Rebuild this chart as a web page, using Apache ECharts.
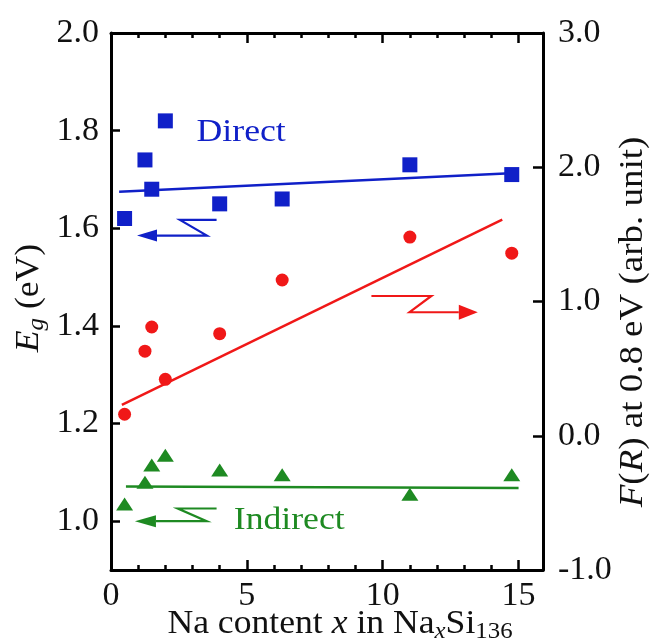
<!DOCTYPE html>
<html>
<head>
<meta charset="utf-8">
<script src="https://cdn.jsdelivr.net/npm/echarts@6/dist/echarts.min.js"></script>
<style>
  html, body { margin: 0; padding: 0; background: #fff; }
  #chart { width: 652px; height: 641px; }
</style>
</head>
<body>
<div id="chart"></div>
<script>
// Na content x in Na_xSi136 for each sample
const naContent = [0.5, 1.25, 1.5, 2.0, 4.0, 6.3, 11.0, 14.75];
// Direct band gap (eV), left axis
const directGap = [1.62, 1.74, 1.68, 1.82, 1.65, 1.66, 1.73, 1.71];
// Kubelka-Munk F(R) at 0.8 eV (arb. unit), right axis
const reflectance = [0.16, 0.63, 0.81, 0.42, 0.76, 1.16, 1.48, 1.36];
// Indirect band gap (eV), left axis
const indirectGap = [1.035, 1.08, 1.115, 1.135, 1.105, 1.095, 1.055, 1.095];

// Linear fit end points
const directFit = [[0.3, 1.675], [14.9, 1.713]];
const reflectanceFit = [[0.4, 0.23], [14.4, 1.61]];
const indirectFit = [[0.55, 1.071], [15.0, 1.068]];

// Tick positions
const xMajorTicks = [0, 5, 10, 15];
const xMinorTicks = [1, 2, 3, 4, 6, 7, 8, 9, 11, 12, 13, 14];
const leftTicks = [1.0, 1.2, 1.4, 1.6, 1.8, 2.0];

const BLUE = '#1020c8';
const RED = '#f01818';
const GREEN = '#1e8a22';
const INK = '#111';
const SERIF = '"Liberation Serif", "Times New Roman", serif';

const chart = echarts.init(document.getElementById('chart'), null, { renderer: 'canvas' });

const pair = (ys) => naContent.map((x, i) => [x, ys[i]]);
const fmt1 = (v) => Number(v).toFixed(1);

function xAxisDef(position, ticks, len, withLine, withLabels) {
  return {
    type: 'value', position: position, min: 0, max: 15.9,
    axisLine: { show: withLine, onZero: false, lineStyle: { color: '#000', width: 3 } },
    axisTick: { show: true, inside: true, length: len, customValues: ticks,
                lineStyle: { color: '#000', width: 2.5 } },
    axisLabel: withLabels
      ? { show: true, customValues: xMajorTicks, fontSize: 34, fontFamily: SERIF, color: INK, margin: 9 }
      : { show: false },
    splitLine: { show: false }
  };
}

const option = {
  animation: false,
  backgroundColor: '#fff',
  grid: { left: 111, right: 109, top: 33, bottom: 71, containLabel: false, outerBoundsMode: 'none' },
  xAxis: [
    xAxisDef('bottom', xMajorTicks, 10, true, true),
    xAxisDef('bottom', xMinorTicks, 5, false, false),
    xAxisDef('top', xMajorTicks, 10, true, false),
    xAxisDef('top', xMinorTicks, 5, false, false)
  ],
  yAxis: [
    {
      type: 'value', position: 'left', min: 0.9, max: 2.0,
      axisLine: { show: true, onZero: false, lineStyle: { color: '#000', width: 3 } },
      axisTick: { show: true, inside: true, length: 9, customValues: leftTicks,
                  lineStyle: { color: '#000', width: 2.5 } },
      axisLabel: { customValues: leftTicks, formatter: fmt1, fontSize: 34,
                   fontFamily: SERIF, color: INK, margin: 12 },
      splitLine: { show: false }
    },
    {
      type: 'value', position: 'right', min: -1, max: 3, interval: 1,
      axisLine: { show: true, onZero: false, lineStyle: { color: '#000', width: 3 } },
      axisTick: { show: true, inside: true, length: 10, lineStyle: { color: '#000', width: 2.5 } },
      axisLabel: { formatter: fmt1, fontSize: 34, fontFamily: SERIF, color: INK, margin: 15 },
      splitLine: { show: false }
    }
  ],
  series: [
    { name: 'Direct fit', type: 'line', data: directFit, yAxisIndex: 0, symbol: 'none', z: 1,
      lineStyle: { color: BLUE, width: 2.5 } },
    { name: 'F(R) fit', type: 'line', data: reflectanceFit, yAxisIndex: 1, symbol: 'none', z: 1,
      lineStyle: { color: RED, width: 2.5 } },
    { name: 'Indirect fit', type: 'line', data: indirectFit, yAxisIndex: 0, symbol: 'none', z: 1,
      lineStyle: { color: GREEN, width: 2.5 } },
    { name: 'Direct', type: 'scatter', data: pair(directGap), yAxisIndex: 0, z: 3,
      symbol: 'rect', symbolSize: 15, itemStyle: { color: BLUE, opacity: 1 } },
    { name: 'F(R)', type: 'scatter', data: pair(reflectance), yAxisIndex: 1, z: 3,
      symbol: 'circle', symbolSize: 13, itemStyle: { color: RED, opacity: 1 } },
    { name: 'Indirect', type: 'scatter', data: pair(indirectGap), yAxisIndex: 0, z: 3,
      symbol: 'triangle', symbolSize: [17, 13], itemStyle: { color: GREEN, opacity: 1 } }
  ]
};

chart.setOption(option);

// ---- annotations placed in data coordinates ----
const toLeft = (p) => chart.convertToPixel({ xAxisIndex: 0, yAxisIndex: 0 }, p);
const toRight = (p) => chart.convertToPixel({ xAxisIndex: 0, yAxisIndex: 1 }, p);

// zig-zag arrows pointing at the axis each series belongs to (last point is the tip)
const directArrow = [[3.886, 1.617], [2.537, 1.617], [3.53, 1.585], [0.956, 1.585]];
const reflectanceArrow = [[9.585, 1.041], [11.79, 1.041], [10.99, 0.92], [13.5, 0.92]];
const indirectArrow = [[3.886, 1.026], [2.46, 1.026], [3.52, 1.0], [0.88, 1.0]];

function arrow(pts, color, headLen, headHalf) {
  const n = pts.length;
  const tip = pts[n - 1], prev = pts[n - 2];
  const dx = tip[0] - prev[0], dy = tip[1] - prev[1];
  const L = Math.hypot(dx, dy), ux = dx / L, uy = dy / L;
  const base = [tip[0] - ux * headLen, tip[1] - uy * headLen];
  const line = pts.slice(0, n - 1).concat([base]);
  const head = [tip, [base[0] - uy * headHalf, base[1] + ux * headHalf],
                [base[0] + uy * headHalf, base[1] - ux * headHalf]];
  return [
    { type: 'polyline', shape: { points: line }, z: 10,
      style: { stroke: color, lineWidth: 2.2, fill: null, lineJoin: 'miter' } },
    { type: 'polygon', shape: { points: head }, z: 10, style: { fill: color } }
  ];
}

function label(pt, text, color, size) {
  return {
    type: 'text', x: pt[0], y: pt[1], scaleX: 1.15, z: 10,
    style: { text: text, fill: color, fontSize: size, fontFamily: SERIF,
             align: 'center', verticalAlign: 'middle' }
  };
}

const base = () => ({ fontSize: 33, fontFamily: SERIF, fill: INK, lineHeight: 38, verticalAlign: 'middle' });
const ital = () => Object.assign(base(), { fontStyle: 'italic' });
const sub = () => ({ fontSize: 23, fontFamily: SERIF, fill: INK, lineHeight: 38, verticalAlign: 'bottom' });
const subItal = () => Object.assign(sub(), { fontStyle: 'italic' });
const richSet = { n: base(), i: ital(), s: sub(), si: subItal() };

const graphics = []
  .concat(arrow(directArrow.map(toLeft), BLUE, 20, 6))
  .concat(arrow(reflectanceArrow.map(toRight), RED, 19, 7.5))
  .concat(arrow(indirectArrow.map(toLeft), GREEN, 21, 6))
  .concat([
    label(toLeft([4.79, 1.795]), 'Direct', BLUE, 31),
    label(toLeft([6.56, 1.0]), 'Indirect', GREEN, 31),
    // axis titles
    { type: 'text', x: 29, y: 298, rotation: Math.PI / 2, scaleX: 1.08, z: 10,
      style: { text: '{i|E}{si|g}{n| (eV)}', rich: richSet, align: 'center', verticalAlign: 'middle' } },
    { type: 'text', x: 633, y: 322, rotation: Math.PI / 2, scaleX: 1.12, z: 10,
      style: { text: '{i|F}{n|(}{i|R}{n|) at 0.8 eV (arb. unit)}', rich: richSet,
               align: 'center', verticalAlign: 'middle' } },
    { type: 'text', x: 340, y: 624, scaleX: 1.08, z: 10,
      style: { text: '{n|Na content }{i|x}{n| in Na}{si|x}{n|Si}{s|136}', rich: richSet,
               align: 'center', verticalAlign: 'middle' } }
  ]);

chart.setOption({ graphic: graphics });
</script>
</body>
</html>
